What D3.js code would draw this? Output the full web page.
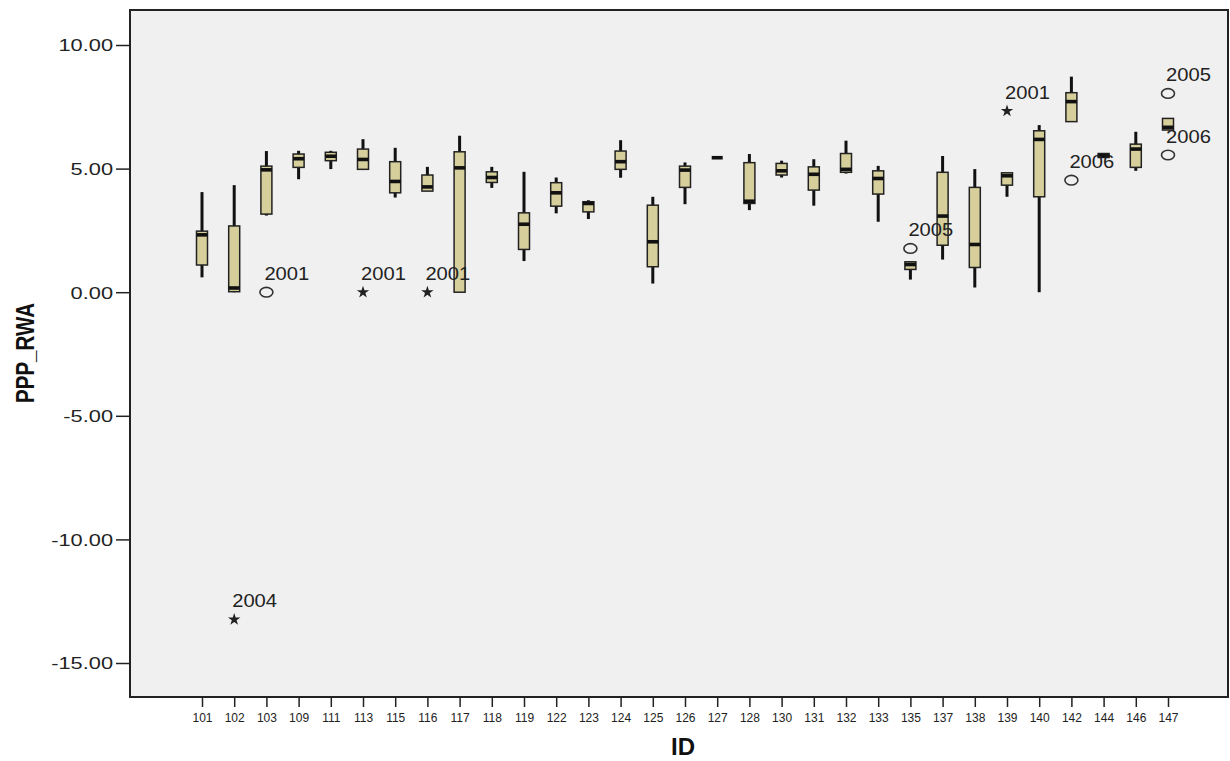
<!DOCTYPE html>
<html>
<head>
<meta charset="utf-8">
<script src="https://cdn.jsdelivr.net/npm/d3@7"></script>
<style>
  body { margin: 0; background: #fff; }
  text { font-family: "Liberation Sans", Arial, sans-serif; }
</style>
</head>
<body>
<svg id="chart" width="1230" height="761"></svg>
<script>
// boxplot of PPP_RWA by ID
const ids = ["101","102","103","109","111","113","115","116","117","118","119","122","123","124","125","126",
             "127","128","130","131","132","133","135","137","138","139","140","142","144","146","147"];
const whiskerLow  = [0.60, 0.00, 3.10, 4.57, 4.98, 4.97, 3.83, 4.09, 0.00, 4.22, 1.26, 3.19, 2.96, 4.63, 0.35, 3.56,
                     5.44, 3.32, 4.64, 3.50, 4.80, 2.85, 0.51, 1.32, 0.19, 3.86, 0.00, 6.90, 5.45, 4.91, 6.56];
const q1          = [1.10, 0.02, 3.16, 5.05, 5.32, 4.97, 4.02, 4.09, 0.00, 4.44, 1.73, 3.48, 3.25, 4.97, 1.03, 4.24,
                     5.44, 3.59, 4.74, 4.13, 4.85, 3.97, 0.92, 1.90, 1.00, 4.33, 3.86, 6.90, 5.45, 5.05, 6.56];
const median      = [2.32, 0.17, 4.95, 5.40, 5.50, 5.37, 4.48, 4.26, 5.03, 4.64, 2.75, 4.02, 3.59, 5.28, 2.04, 4.94,
                     5.44, 3.68, 4.91, 4.77, 4.97, 4.60, 1.12, 3.08, 1.93, 4.71, 6.18, 7.71, 5.52, 5.79, 6.67];
const q3          = [2.47, 2.68, 5.10, 5.59, 5.66, 5.79, 5.28, 4.74, 5.68, 4.87, 3.21, 4.43, 3.66, 5.71, 3.52, 5.10,
                     5.44, 5.24, 5.21, 5.07, 5.61, 4.91, 1.23, 4.85, 4.24, 4.83, 6.53, 8.07, 5.61, 5.99, 7.03];
const whiskerHigh = [4.05, 4.33, 5.71, 5.72, 5.72, 6.19, 5.84, 5.07, 6.33, 5.07, 4.87, 4.64, 3.72, 6.15, 3.86, 5.25,
                     5.44, 5.59, 5.32, 5.38, 6.13, 5.11, 1.23, 5.51, 4.98, 4.83, 6.76, 8.72, 5.61, 6.49, 7.03];

// outliers (circle) and extremes (star), labelled with the year
const outlierIds    = ["102", "103", "113", "116", "135", "139", "142", "147", "147"];
const outlierValues = [-13.24, 0.00, 0.00, 0.00, 1.77, 7.33, 4.53, 8.04, 5.55];
const outlierKinds  = ["star", "circle", "star", "star", "circle", "star", "circle", "circle", "circle"];
const outlierLabels = ["2004", "2001", "2001", "2001", "2005", "2001", "2006", "2005", "2006"];

const yTicks = [10, 5, 0, -5, -10, -15];

const svg = d3.select("#chart");
const plot = {left: 130, top: 10, right: 1228, bottom: 697};

const x = d3.scalePoint().domain(ids).range([202, 1168]);
const y = d3.scaleLinear().domain([-15, 10]).range([663, 45]);

function stretch(sel, k) {
  sel.each(function() {
    const w = this.getComputedTextLength();
    d3.select(this).attr("textLength", w * k).attr("lengthAdjust", "spacingAndGlyphs");
  });
}

// plot background
svg.append("rect")
  .attr("x", plot.left).attr("y", plot.top)
  .attr("width", plot.right - plot.left).attr("height", plot.bottom - plot.top)
  .attr("fill", "#f0f0f0");

// Y axis (plain hyphen as minus, like the original)
const yAxis = svg.append("g")
  .attr("transform", "translate(" + plot.left + ",0)")
  .call(d3.axisLeft(y).tickValues(yTicks)
        .tickFormat(d => d.toFixed(2))
        .tickSize(14).tickPadding(3));
yAxis.select(".domain").remove();
yAxis.selectAll(".tick line").attr("stroke", "#222").attr("stroke-width", 1.5);
yAxis.selectAll(".tick text")
  .attr("font-size", 16.5).attr("fill", "#222").attr("dy", "0.36em")
  .call(stretch, 1.32);

// X axis
const xAxis = svg.append("g")
  .attr("transform", "translate(0," + plot.bottom + ")")
  .call(d3.axisBottom(x).tickSize(10).tickPadding(6));
xAxis.select(".domain").remove();
xAxis.selectAll(".tick line").attr("stroke", "#222").attr("stroke-width", 1.5);
xAxis.selectAll(".tick text").attr("font-size", 12).attr("fill", "#222");

// frame
svg.append("rect")
  .attr("x", plot.left).attr("y", plot.top)
  .attr("width", plot.right - plot.left).attr("height", plot.bottom - plot.top)
  .attr("fill", "none").attr("stroke", "#222").attr("stroke-width", 2);

// axis titles
svg.append("text")
  .attr("x", 683).attr("y", 755)
  .attr("text-anchor", "middle")
  .attr("font-size", 24).attr("font-weight", "bold").attr("fill", "#111")
  .text("ID");

svg.append("text")
  .attr("transform", "translate(34,353)rotate(-90)")
  .attr("text-anchor", "middle")
  .attr("font-size", 25).attr("font-weight", "bold").attr("fill", "#111")
  .attr("textLength", 100).attr("lengthAdjust", "spacingAndGlyphs")
  .text("PPP_RWA");

// boxes
const boxW = 11;
const boxes = ids.map((id, i) => ({
  id: id, lo: whiskerLow[i], q1: q1[i], med: median[i], q3: q3[i], hi: whiskerHigh[i]
}));

const g = svg.append("g");

g.selectAll(".whisker")
  .data(boxes)
  .enter()
  .append("line")
    .attr("x1", d => x(d.id)).attr("x2", d => x(d.id))
    .attr("y1", d => y(d.hi)).attr("y2", d => y(d.lo))
    .attr("stroke", "#111").attr("stroke-width", 3);

g.selectAll(".box")
  .data(boxes)
  .enter()
  .append("rect")
    .attr("x", d => x(d.id) - boxW / 2)
    .attr("width", boxW)
    .attr("y", d => y(d.q3))
    .attr("height", d => y(d.q1) - y(d.q3))
    .attr("fill", "#d6cf9b")
    .attr("stroke", "#222").attr("stroke-width", 1.5);

g.selectAll(".median")
  .data(boxes)
  .enter()
  .append("rect")
    .attr("x", d => x(d.id) - boxW / 2)
    .attr("width", boxW)
    .attr("y", d => y(d.med) - 1.8)
    .attr("height", 3.6)
    .attr("fill", "#111");

// outliers
const outliers = outlierIds.map((id, i) => ({
  id: id, v: outlierValues[i], kind: outlierKinds[i], label: outlierLabels[i]
}));

g.selectAll(".circ")
  .data(outliers.filter(d => d.kind === "circle"))
  .enter()
  .append("ellipse")
    .attr("cx", d => x(d.id)).attr("cy", d => y(d.v))
    .attr("rx", 6.5).attr("ry", 4.8)
    .attr("fill", "none").attr("stroke", "#333").attr("stroke-width", 1.6);

g.selectAll(".star")
  .data(outliers.filter(d => d.kind === "star"))
  .enter()
  .append("path")
    .attr("transform", d => "translate(" + x(d.id) + "," + y(d.v) + ")")
    .attr("d", d3.symbol().type(d3.symbolStar).size(48))
    .attr("fill", "#222");

g.selectAll(".olabel")
  .data(outliers)
  .enter()
  .append("text")
    .attr("x", d => x(d.id) - 2)
    .attr("y", d => y(d.v) - 12)
    .attr("font-size", 18).attr("fill", "#222")
    .text(d => d.label)
    .call(stretch, 1.12);
</script>
</body>
</html>
